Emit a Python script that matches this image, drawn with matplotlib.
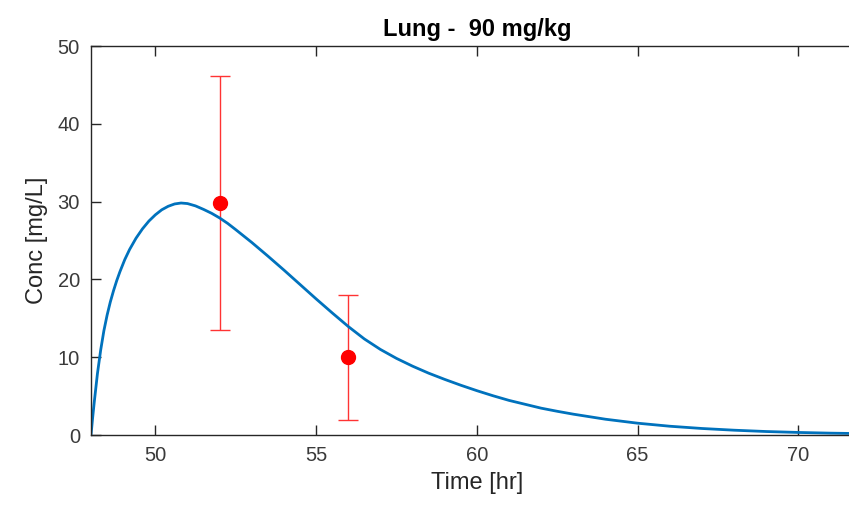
import numpy as np
import matplotlib
matplotlib.use('Agg')
import matplotlib.pyplot as plt

# Simulated lung concentration after the 48 h dose
time_hr = [48.0, 48.05, 48.1, 48.2, 48.3, 48.4, 48.5, 48.6, 48.7, 48.8,
           48.9, 49.05, 49.2, 49.4, 49.6, 49.8, 50.0, 50.2, 50.4, 50.6,
           50.8, 51.0, 51.25, 51.5, 51.75, 52.0, 52.25, 52.5, 53.0, 53.5,
           54.0, 54.5, 55.0, 55.5, 56.0, 56.5, 57.0, 57.5, 58.0, 58.5,
           59.0, 59.5, 60.0, 60.5, 61.0, 61.5, 62.0, 62.5, 63.0, 64.0,
           65.0, 66.0, 67.0, 68.0, 69.0, 70.0, 71.0, 72.0]
conc_model = [0.0, 2.2, 4.2, 7.9, 10.9, 13.4, 15.4, 17.1, 18.55, 19.85,
              21.0, 22.55, 23.85, 25.3, 26.5, 27.5, 28.3, 28.95, 29.4, 29.7,
              29.82, 29.75, 29.45, 29.0, 28.5, 27.9, 27.2, 26.4, 24.75, 23.0,
              21.2, 19.35, 17.5, 15.7, 13.95, 12.35, 11.0, 9.85, 8.85, 7.95,
              7.15, 6.4, 5.7, 5.05, 4.45, 3.95, 3.45, 3.05, 2.68, 2.03,
              1.52, 1.13, 0.84, 0.62, 0.45, 0.33, 0.24, 0.18]

# Observed data (mean +/- sd)
obs_time = [52, 56]
obs_conc = [29.85, 10.0]
obs_sd = [16.3, 8.05]

axis_gray = '#262626'
plt.rcParams['font.family'] = ['Liberation Sans', 'DejaVu Sans']

fig = plt.figure(figsize=(8.49, 5.13), dpi=100)
ax = fig.add_axes([0.1072, 0.152, 0.909, 0.7583])

# Error bars first so the model curve sits on top of them
ax.errorbar(obs_time, obs_conc, yerr=obs_sd, fmt='none', ecolor='#ff3333',
            elinewidth=1.0, capsize=7.5, capthick=1.0, zorder=1)
ax.plot(time_hr, conc_model, color='#0072BD', linewidth=2.0, zorder=2)
ax.plot(obs_time, obs_conc, 'o', color='red', markersize=10, zorder=3)

ax.set_xlim(48, 72)
ax.set_ylim(0, 50)
ax.set_xticks([50, 55, 60, 65, 70])
ax.set_yticks([0, 10, 20, 30, 40, 50])

ax.set_xlabel('Time [hr]', fontsize=17, color=axis_gray, labelpad=5)
ax.set_ylabel('Conc [mg/L]', fontsize=17, color=axis_gray, labelpad=7)
ax.set_title('Lung -  90 mg/kg', fontsize=17, fontweight='bold', color='black', pad=7)

ax.tick_params(direction='in', length=7, width=1, colors=axis_gray,
               labelsize=14.5, top=True, right=True, pad=8)
for tl in ax.get_xticklabels() + ax.get_yticklabels():
    tl.set_color('#3a3a3a')
for side in ax.spines.values():
    side.set_color(axis_gray)
    side.set_linewidth(1.0)

fig.savefig('out.png', dpi=100)
